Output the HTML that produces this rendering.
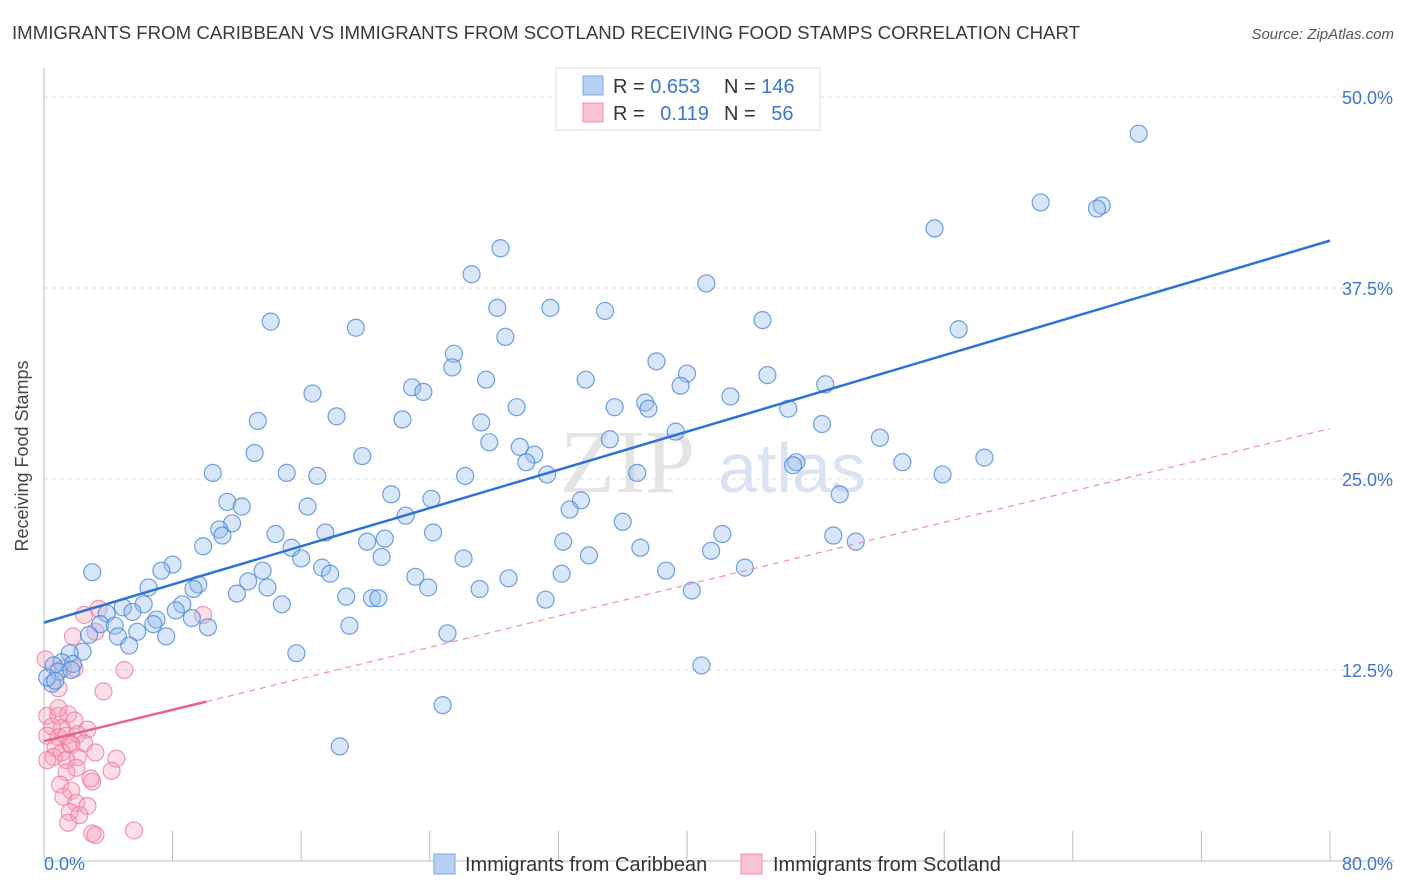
<!DOCTYPE html>
<html><head><meta charset="utf-8"><style>
body{margin:0;background:#fff;font-family:"Liberation Sans",sans-serif;}
#c{position:absolute;left:0;top:0;}
</style></head><body>
<svg id="c" width="1406" height="892">
<text x="12" y="39" font-size="18" fill="#3a3a3a" textLength="1068" lengthAdjust="spacingAndGlyphs">IMMIGRANTS FROM CARIBBEAN VS IMMIGRANTS FROM SCOTLAND RECEIVING FOOD STAMPS CORRELATION CHART</text>
<text x="1394" y="39" font-size="15" fill="#555" font-style="italic" text-anchor="end">Source: ZipAtlas.com</text>
<text x="28" y="456" font-size="18" fill="#444" text-anchor="middle" transform="rotate(-90 28 456)">Receiving Food Stamps</text>
<text x="560" y="492" font-size="90" fill="#e4e4e4" font-family="Liberation Serif,serif">ZIP</text>
<text x="718" y="492" font-size="70" fill="#d8e4f4">atlas</text>
<g id="grid"></g><g id="marks"></g>
<g>
<rect x="556" y="68" width="264" height="62" fill="#fff" stroke="#ddd"/>
<rect x="583" y="76" width="20" height="19" fill="#b8d1f3" stroke="#7aa7e4"/>
<rect x="583" y="103" width="20" height="19" fill="#f9c3d2" stroke="#ee8fab"/>
<text x="613" y="93" font-size="20" fill="#333">R = <tspan fill="#3b77d0">0.653</tspan></text>
<text x="724" y="93" font-size="20" fill="#333">N = <tspan fill="#3b77d0">146</tspan></text>
<text x="613" y="120" font-size="20" fill="#333">R = <tspan fill="#3b77d0" dx="10">0.119</tspan></text>
<text x="724" y="120" font-size="20" fill="#333">N = <tspan fill="#3b77d0" dx="10">56</tspan></text>
</g>
<g>
<rect x="434" y="854" width="21" height="20" fill="#b8d1f3" stroke="#7aa7e4"/>
<text x="465" y="871" font-size="20" fill="#333">Immigrants from Caribbean</text>
<rect x="741" y="854" width="21" height="20" fill="#f9c3d2" stroke="#ee8fab"/>
<text x="773" y="871" font-size="20" fill="#333">Immigrants from Scotland</text>
</g>
</svg>
<script>
const yTicks=[12.5,25,37.5,50];
const yTickLabels=["12.5%","25.0%","37.5%","50.0%"];
const xTickLabels=["0.0%","80.0%"];
const blueX=[68.1,62.0,65.8,65.5,55.4,28.4,26.6,41.2,28.2,31.5,34.9,14.1,44.7,19.4,56.9,28.7,25.5,38.1,25.4,40.0,45.0,27.5,33.7,39.6,48.6,22.9,23.6,16.7,42.7,37.4,37.6,29.4,35.5,46.3,18.2,22.3,13.3,27.2,48.4,39.3,35.2,52.0,27.7,29.6,13.1,30.5,19.8,30.0,46.8,46.6,53.4,58.5,10.5,15.1,17.0,26.2,31.3,36.9,55.9,49.5,21.6,11.4,12.3,24.1,33.4,16.4,32.7,22.5,11.7,36.0,10.9,11.1,14.4,17.5,24.2,42.2,49.1,50.5,20.1,21.2,32.3,9.9,15.4,37.1,41.5,21.0,26.1,33.9,16.0,8.0,3.0,7.3,13.6,17.3,17.8,38.7,43.6,32.2,23.1,28.9,12.7,9.6,9.3,6.5,13.9,23.9,27.1,12.0,40.3,18.8,20.4,20.8,31.2,6.2,14.8,8.6,4.9,5.5,3.9,8.2,7.0,9.2,6.8,3.5,4.4,10.2,5.8,2.8,19.0,25.1,4.6,7.6,5.3,2.4,1.6,15.7,1.1,1.8,0.6,0.9,1.7,0.5,40.9,24.8,18.4,0.2,0.7];
const blueY=[47.6,43.1,42.9,42.7,41.4,40.1,38.4,37.8,36.2,36.2,36.0,35.3,35.4,34.9,34.8,34.3,33.2,32.7,32.3,31.9,31.8,31.5,31.5,31.1,31.2,31.0,30.7,30.6,30.4,30.0,29.6,29.7,29.7,29.6,29.1,28.9,28.8,28.7,28.6,28.1,27.6,27.7,27.4,27.1,26.7,26.6,26.5,26.1,26.1,25.9,26.1,26.4,25.4,25.4,25.2,25.2,25.3,25.4,25.3,24.0,24.0,23.5,23.2,23.7,23.6,23.2,23.0,22.6,22.1,22.2,21.7,21.3,21.4,21.5,21.5,21.4,21.3,20.9,20.9,21.1,20.9,20.6,20.5,20.5,20.3,19.9,19.8,20.0,19.8,19.4,18.9,19.0,19.0,19.2,18.8,19.0,19.2,18.8,18.6,18.5,18.3,18.1,17.8,17.9,17.9,17.9,17.8,17.5,17.7,17.3,17.2,17.2,17.1,16.8,16.8,16.8,16.6,16.3,16.2,16.4,15.8,15.9,15.5,15.5,15.4,15.3,15.0,14.8,15.4,14.9,14.7,14.7,14.1,13.7,13.6,13.6,13.0,12.9,12.8,12.4,12.5,11.6,12.8,10.2,7.5,12.0,11.8];
const pinkX=[3.4,2.5,9.9,1.8,3.2,0.1,1.2,1.9,5.0,0.9,3.7,0.2,0.9,1.5,1.9,0.5,1.1,0.2,0.9,1.4,2.7,2.1,1.6,2.5,0.7,1.1,2.1,3.2,0.6,1.4,2.0,4.5,1.4,3.0,4.2,1.0,1.7,2.9,1.2,2.0,1.6,2.7,2.2,1.5,3.0,3.2,5.6,0.2,0.9,1.7];
const pinkY=[16.5,16.1,16.1,14.7,15.0,13.2,12.6,12.6,12.5,11.3,11.1,9.5,9.5,9.6,9.2,8.8,8.7,8.2,8.1,8.2,8.6,8.3,7.7,7.7,7.4,7.1,6.8,7.1,6.8,6.6,6.1,6.7,5.8,5.2,5.9,5.0,4.6,5.4,4.2,3.8,3.2,3.6,3.0,2.5,1.8,1.7,2.0,6.6,10.0,7.6];
const blueTrend=[15.6,40.6];
const pinkTrend=[7.85,28.3];
const pinkSolidEnd=10.1;

const X0=44,X1=1330,Y0=861,YPP=15.28;
const sx=v=>X0+(X1-X0)*v/80;
const sy=v=>Y0-v*YPP;
const NS="http://www.w3.org/2000/svg";
function mk(t,a,p){const e=document.createElementNS(NS,t);for(const k in a)e.setAttribute(k,a[k]);p.appendChild(e);return e;}
const g=document.getElementById('grid'),m=document.getElementById('marks');
yTicks.forEach((t,i)=>{
 const l=mk('line',{x1:X0,x2:1394,y1:sy(t),y2:sy(t),stroke:'#ddd','stroke-dasharray':'4,4'},g);
 
 
 const tx=mk('text',{x:1393,y:sy(t)+7,'font-size':18,fill:'#3b77d0','text-anchor':'end'},g);
 tx.textContent=yTickLabels[i];
 
 
});
const ax=mk('line',{x1:X0,x2:X0,y1:68,y2:Y0,stroke:'#bbb'},g);


const bx=mk('line',{x1:X0,x2:1394,y1:Y0,y2:Y0,stroke:'#bbb'},g);


for(let i=0;i<=10;i++){const tk=mk('line',{x1:sx(i*8),x2:sx(i*8),y1:Y0,y2:Y0-30,stroke:'#bbb'},g);
 
 }
const xl=mk('text',{x:44,y:870,'font-size':18,fill:'#3b77d0'},g);xl.textContent=xTickLabels[0];


const xr=mk('text',{x:1393,y:870,'font-size':18,fill:'#3b77d0','text-anchor':'end'},g);xr.textContent=xTickLabels[1];


pinkX.forEach((v,i)=>{const c=mk('circle',{cx:sx(v),cy:sy(pinkY[i]),r:8.5,fill:'rgba(246,160,185,0.35)',stroke:'rgba(236,120,155,0.75)','stroke-width':1.2},m);
 
 });
blueX.forEach((v,i)=>{const c=mk('circle',{cx:sx(v),cy:sy(blueY[i]),r:8.5,fill:'rgba(150,190,240,0.38)',stroke:'rgba(70,130,215,0.75)','stroke-width':1.2},m);
 
 });
const pt=v=>pinkTrend[0]+(pinkTrend[1]-pinkTrend[0])*v/80;
const pd=mk('line',{x1:sx(pinkSolidEnd),y1:sy(pt(pinkSolidEnd)),x2:sx(80),y2:sy(pinkTrend[1]),stroke:'#ee8fab','stroke-width':1.2,'stroke-dasharray':'6,5'},m);


const ps=mk('line',{x1:sx(0),y1:sy(pinkTrend[0]),x2:sx(pinkSolidEnd),y2:sy(pt(pinkSolidEnd)),stroke:'#e8628c','stroke-width':2.5},m);


const bl=mk('line',{x1:sx(0),y1:sy(blueTrend[0]),x2:sx(80),y2:sy(blueTrend[1]),stroke:'#2f72d6','stroke-width':2.5},m);


</script>
</body></html>
